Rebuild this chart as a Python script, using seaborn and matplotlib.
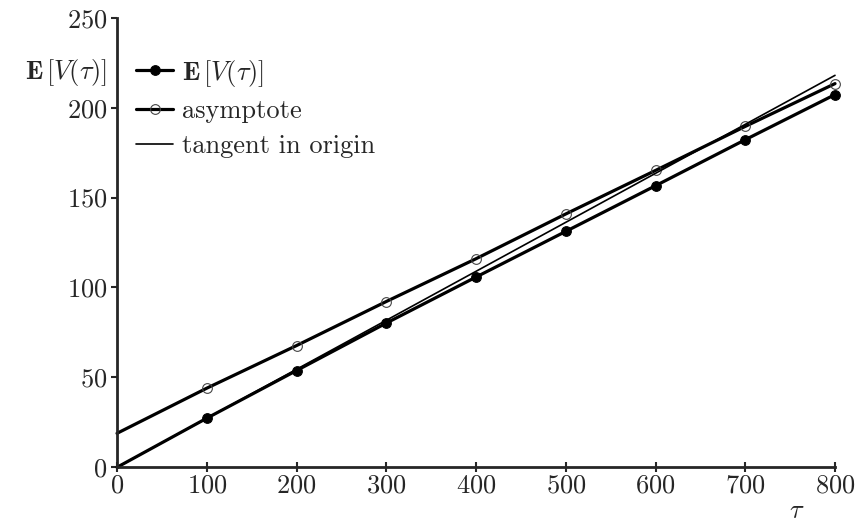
import numpy as np
import pandas as pd
import matplotlib
matplotlib.use("Agg")
import matplotlib.pyplot as plt
import seaborn as sns

# values
tau = [0, 100, 200, 300, 400, 500, 600, 700, 800]
expected_v = [0, 27.3, 53.8, 80.2, 105.8, 131.2, 156.6, 182.2, 207.3]
asymptote = [18.9, 44.0, 67.7, 92.2, 116.0, 140.9, 165.1, 189.6, 213.4]
tangent_tau = [0, 800]
tangent = [0, 218.0]

sns.set_style("ticks")
plt.rcParams["font.family"] = ["cmr10", "DejaVu Serif"]
plt.rcParams["mathtext.fontset"] = "cm"
plt.rcParams["axes.formatter.use_mathtext"] = True
fs = 19

fig = plt.figure(figsize=(8.58, 5.27), dpi=100)
ax = fig.add_axes([0.1364, 0.1133, 0.8368, 0.8529])

''' the three curves '''
marks = list(range(1, len(tau)))
sns.lineplot(x=tau, y=expected_v, ax=ax, color="black", lw=2.3,
             marker="o", markersize=7, markevery=marks, markerfacecolor="black",
             markeredgecolor="black", clip_on=False, label=r"$\mathbf{E}\,[V(\tau)]$")
sns.lineplot(x=tau, y=asymptote, ax=ax, color="black", lw=2.3,
             marker="o", markersize=7, markevery=marks, markerfacecolor="none",
             markeredgecolor="#444444", markeredgewidth=0.8, clip_on=False, label="asymptote")
sns.lineplot(x=tangent_tau, y=tangent, ax=ax, color="black", lw=1.2,
             clip_on=False, label="tangent in origin")

ax.set_xlim(0, 800)
ax.set_ylim(0, 250)
ax.set_xticks([0, 100, 200, 300, 400, 500, 600, 700, 800])
ax.set_yticks([0, 50, 100, 150, 200, 250])
sns.despine(ax=ax)
for s in ["left", "bottom"]:
    ax.spines[s].set_linewidth(2)
ax.tick_params(axis="x", direction="inout", length=7, width=1.5, pad=1, labelsize=fs)
ax.tick_params(axis="y", direction="out", length=4, width=1.5, pad=3, labelsize=fs)

ax.set_ylabel(r"$\mathbf{E}\,[V(\tau)]$", rotation=0, ha="right", va="center", fontsize=fs)
ax.yaxis.set_label_coords(-0.014, 0.879)
ax.set_xlabel(r"$\tau$", fontsize=fs, va="center")
ax.xaxis.set_label_coords(0.947, -0.097)

ax.legend(loc="upper left", bbox_to_anchor=(0.012, 0.935), frameon=False, fontsize=fs,
          handlelength=1.4, handletextpad=0.35, labelspacing=0.42, borderaxespad=0)

plt.savefig("out.png", dpi=100)
